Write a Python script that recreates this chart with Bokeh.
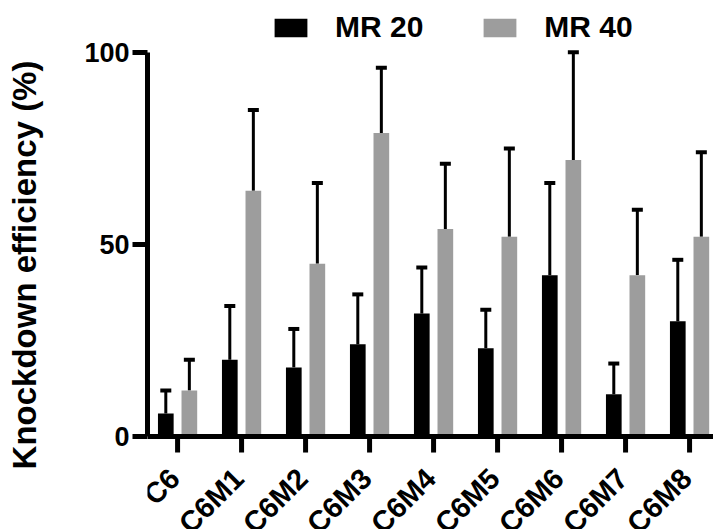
import numpy as np
from bokeh.plotting import figure
from bokeh.models import (ColumnDataSource, Whisker, TeeHead, Legend, LegendItem,
                          FixedTicker, Range1d, Span)
from bokeh.core.properties import value
from bokeh.transform import dodge
from bokeh.embed import file_html
from bokeh.resources import INLINE

categories = ["C6", "C6M1", "C6M2", "C6M3", "C6M4", "C6M5", "C6M6", "C6M7", "C6M8"]
mr20 = [6, 20, 18, 24, 32, 23, 42, 11, 30]
mr20_upper = [12, 34, 28, 37, 44, 33, 66, 19, 46]
mr40 = [12, 64, 45, 79, 54, 52, 72, 42, 52]
mr40_upper = [20, 85, 66, 96, 71, 75, 100, 59, 74]
y_ticks = [0, 50, 100]

FONT = "Liberation Sans"
BLACK = "#000000"
GRAY = "#9d9d9d"

xs = np.arange(len(categories))
src = ColumnDataSource(dict(x=xs, zero=np.zeros(len(xs)), name=categories,
                            mr20=mr20, mr20_up=mr20_upper,
                            mr40=mr40, mr40_up=mr40_upper))

p = figure(width=713, height=529, output_backend="svg", toolbar_location=None,
           x_range=Range1d(-0.47, 8.374), y_range=Range1d(-24.2, 113.5),
           x_axis_location=None,
           min_border_left=147, min_border_right=0, min_border_top=0,
           min_border_bottom=0)
p.outline_line_color = None
p.grid.visible = False
p.background_fill_color = "white"

off = 0.184
w = 0.245
r20 = p.vbar(x=dodge("x", -off), top="mr20", width=w, source=src,
             fill_color=BLACK, line_color=None)
r40 = p.vbar(x=dodge("x", off), top="mr40", width=w, source=src,
             fill_color=GRAY, line_color=None)

for col, up, d in (("mr20", "mr20_up", -off), ("mr40", "mr40_up", off)):
    wh = Whisker(base=dodge("x", d), lower=col, upper=up, source=src,
                 dimension="height", line_color="black", line_width=3,
                 upper_head=TeeHead(size=11, line_width=4, line_color="black"),
                 lower_head=None)
    p.add_layout(wh)

# x axis: line, ticks and category labels
p.add_layout(Span(location=0, dimension="width", line_color="black", line_width=5))
p.ray(x="x", y="zero", length=16, length_units="screen", angle=-np.pi / 2,
      line_color="black", line_width=5, source=src)
p.text(x="x", y="zero", text="name", angle=np.pi / 4, source=src,
       text_align="right", text_baseline="middle", x_offset=-3, y_offset=37,
       text_font=value(FONT), text_font_style="bold",
       text_font_size="29px", text_color="black")

# y axis
p.yaxis.ticker = FixedTicker(ticks=y_ticks)
p.yaxis.bounds = (0, 100)
ax = p.yaxis[0]
ax.axis_line_width = 5
ax.axis_line_color = "black"
ax.major_tick_line_width = 5
ax.major_tick_line_color = "black"
ax.major_tick_out = 15
ax.major_tick_in = 0
ax.minor_tick_line_color = None
ax.major_label_text_font = FONT
ax.major_label_text_font_style = "bold"
ax.major_label_text_color = "black"
ax.major_label_text_font_size = "27px"
ax.major_label_standoff = 3
ax.axis_label = "Knockdown efficiency (%)"
ax.axis_label_text_font = FONT
ax.axis_label_text_font_style = "bold"
ax.axis_label_text_font_size = "33px"
ax.axis_label_text_color = "black"
ax.axis_label_standoff = 38

legend = Legend(items=[LegendItem(label="MR 20", renderers=[r20]),
                       LegendItem(label="MR 40", renderers=[r40])],
                orientation="horizontal", location=(123, 485),
                glyph_width=41, glyph_height=23, label_standoff=24, spacing=56,
                padding=0, margin=0, border_line_color=None,
                background_fill_alpha=0, label_text_font=FONT,
                label_text_font_style="bold", label_text_font_size="30px",
                label_text_color="black", label_height=22)
p.add_layout(legend, "center")

open("out.html", "w").write(file_html(p, INLINE))
